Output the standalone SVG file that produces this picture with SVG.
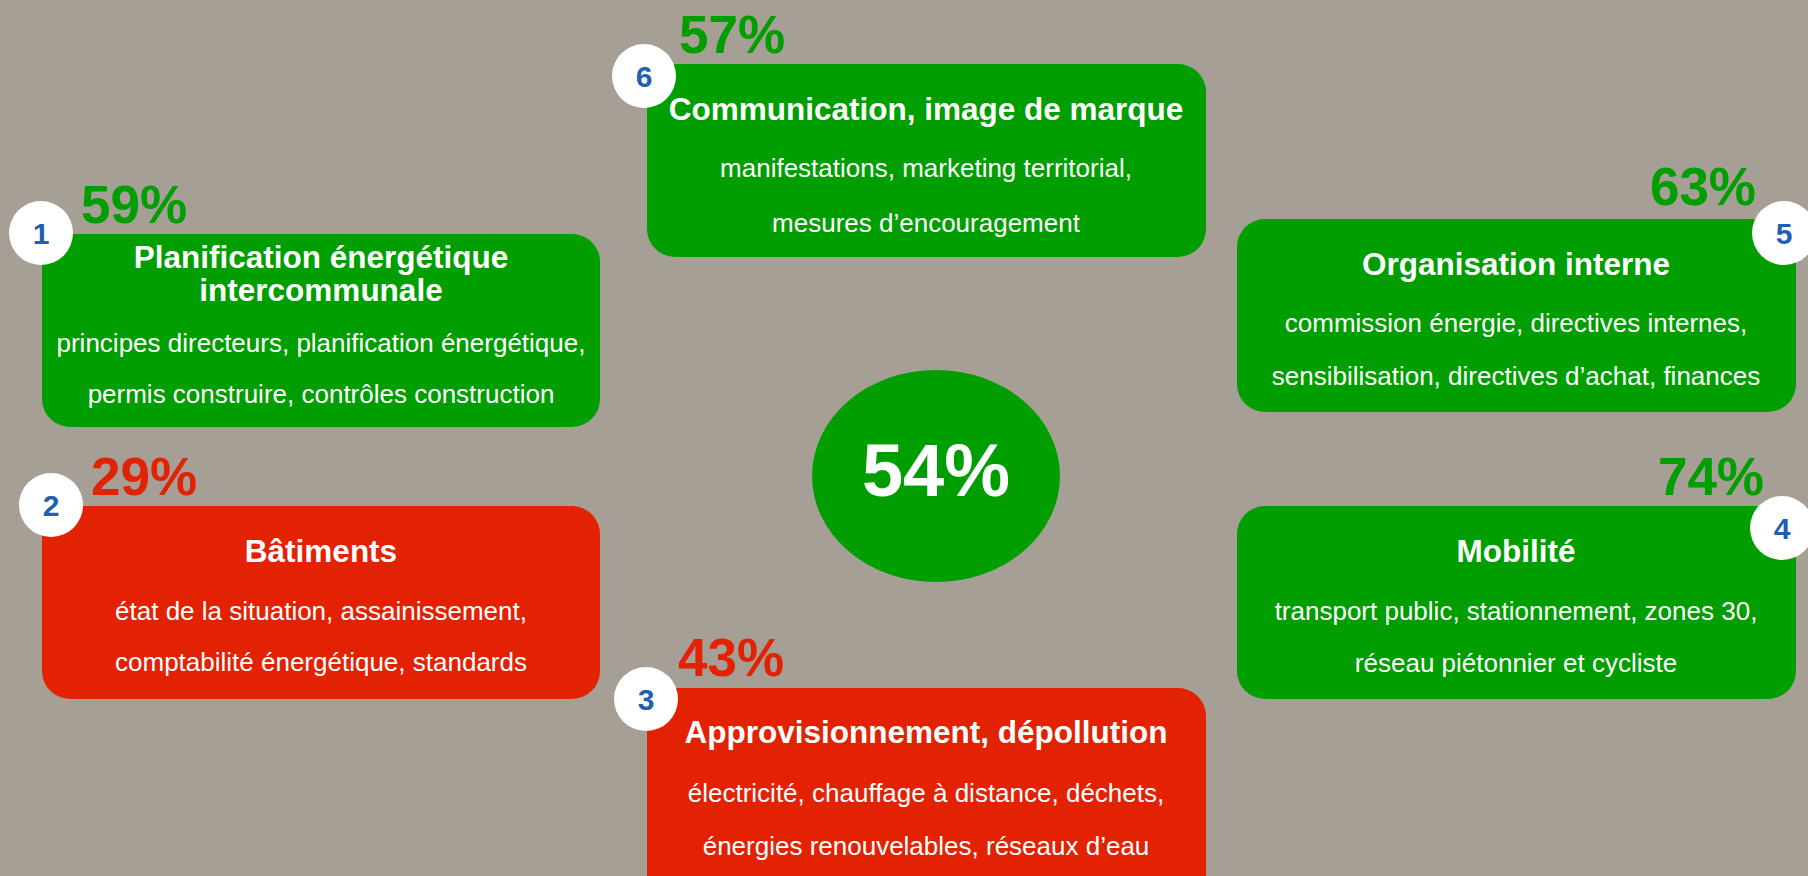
<svg xmlns="http://www.w3.org/2000/svg" width="1808" height="876" viewBox="0 0 1808 876">
<style>
.bg{fill:#A69F95}
.g{fill:#009E00}
.r{fill:#E32204}
.t,.b{font-family:"Liberation Sans",Arial,sans-serif;fill:#fff;text-anchor:middle}
.t{font-size:31.5px;font-weight:bold}
.b{font-size:26px}
.pct{font-family:"Liberation Sans",Arial,sans-serif;font-size:53px;font-weight:bold;text-anchor:start}
.pend{text-anchor:end}
.pg{fill:#009E00}
.pr{fill:#E32204}
.badge circle{fill:#fff}
.badge text{font-family:"Liberation Sans",Arial,sans-serif;font-size:30px;font-weight:bold;fill:#1F5FB2;text-anchor:middle}
</style>
<rect class="bg" x="0" y="0" width="1808" height="876"/>
<g id="connectors"></g>
<g id="center">
<ellipse class="g" cx="936" cy="476" rx="124" ry="106"/>
<text x="936" y="496" font-family="'Liberation Sans',Arial,sans-serif" font-size="74" font-weight="bold" fill="#fff" text-anchor="middle">54%</text>
</g>
<g id="node1">
<text class="pct pg" x="81" y="223">59%</text>
<rect class="g" x="42" y="234" width="558" height="193" rx="28"/>
<text class="t" x="321" y="268">Planification énergétique</text>
<text class="t" x="321" y="301">intercommunale</text>
<text class="b" x="321" y="352">principes directeurs, planification énergétique,</text>
<text class="b" x="321" y="403">permis construire, contrôles construction</text>
<g class="badge"><circle cx="41" cy="233" r="32"/><text x="41" y="244">1</text></g>
</g>
<g id="node2">
<text class="pct pr" x="91" y="495">29%</text>
<rect class="r" x="42" y="506" width="558" height="193" rx="28"/>
<text class="t" x="321" y="562">Bâtiments</text>
<text class="b" x="321" y="620">état de la situation, assainissement,</text>
<text class="b" x="321" y="671">comptabilité énergétique, standards</text>
<g class="badge"><circle cx="51" cy="505" r="32"/><text x="51" y="516">2</text></g>
</g>
<g id="node6">
<text class="pct pg" x="679" y="53">57%</text>
<rect class="g" x="647" y="64" width="559" height="193" rx="28"/>
<text class="t" x="926" y="120">Communication, image de marque</text>
<text class="b" x="926" y="177">manifestations, marketing territorial,</text>
<text class="b" x="926" y="232">mesures d’encouragement</text>
<g class="badge"><circle cx="644" cy="76" r="32"/><text x="644" y="87">6</text></g>
</g>
<g id="node3">
<text class="pct pr" x="678" y="676">43%</text>
<rect class="r" x="647" y="688" width="559" height="230" rx="28"/>
<text class="t" x="926" y="743">Approvisionnement, dépollution</text>
<text class="b" x="926" y="802">électricité, chauffage à distance, déchets,</text>
<text class="b" x="926" y="855">énergies renouvelables, réseaux d’eau</text>
<g class="badge"><circle cx="646" cy="699" r="32"/><text x="646" y="710">3</text></g>
</g>
<g id="node5">
<text class="pct pend pg" x="1756" y="205">63%</text>
<rect class="g" x="1237" y="219" width="559" height="193" rx="28"/>
<text class="t" x="1516" y="275">Organisation interne</text>
<text class="b" x="1516" y="332">commission énergie, directives internes,</text>
<text class="b" x="1516" y="385">sensibilisation, directives d’achat, finances</text>
<g class="badge"><circle cx="1784" cy="233" r="32"/><text x="1784" y="244">5</text></g>
</g>
<g id="node4">
<text class="pct pend pg" x="1764" y="495">74%</text>
<rect class="g" x="1237" y="506" width="559" height="193" rx="28"/>
<text class="t" x="1516" y="562">Mobilité</text>
<text class="b" x="1516" y="620">transport public, stationnement, zones 30,</text>
<text class="b" x="1516" y="672">réseau piétonnier et cycliste</text>
<g class="badge"><circle cx="1782" cy="528" r="32"/><text x="1782" y="539">4</text></g>
</g>
</svg>
